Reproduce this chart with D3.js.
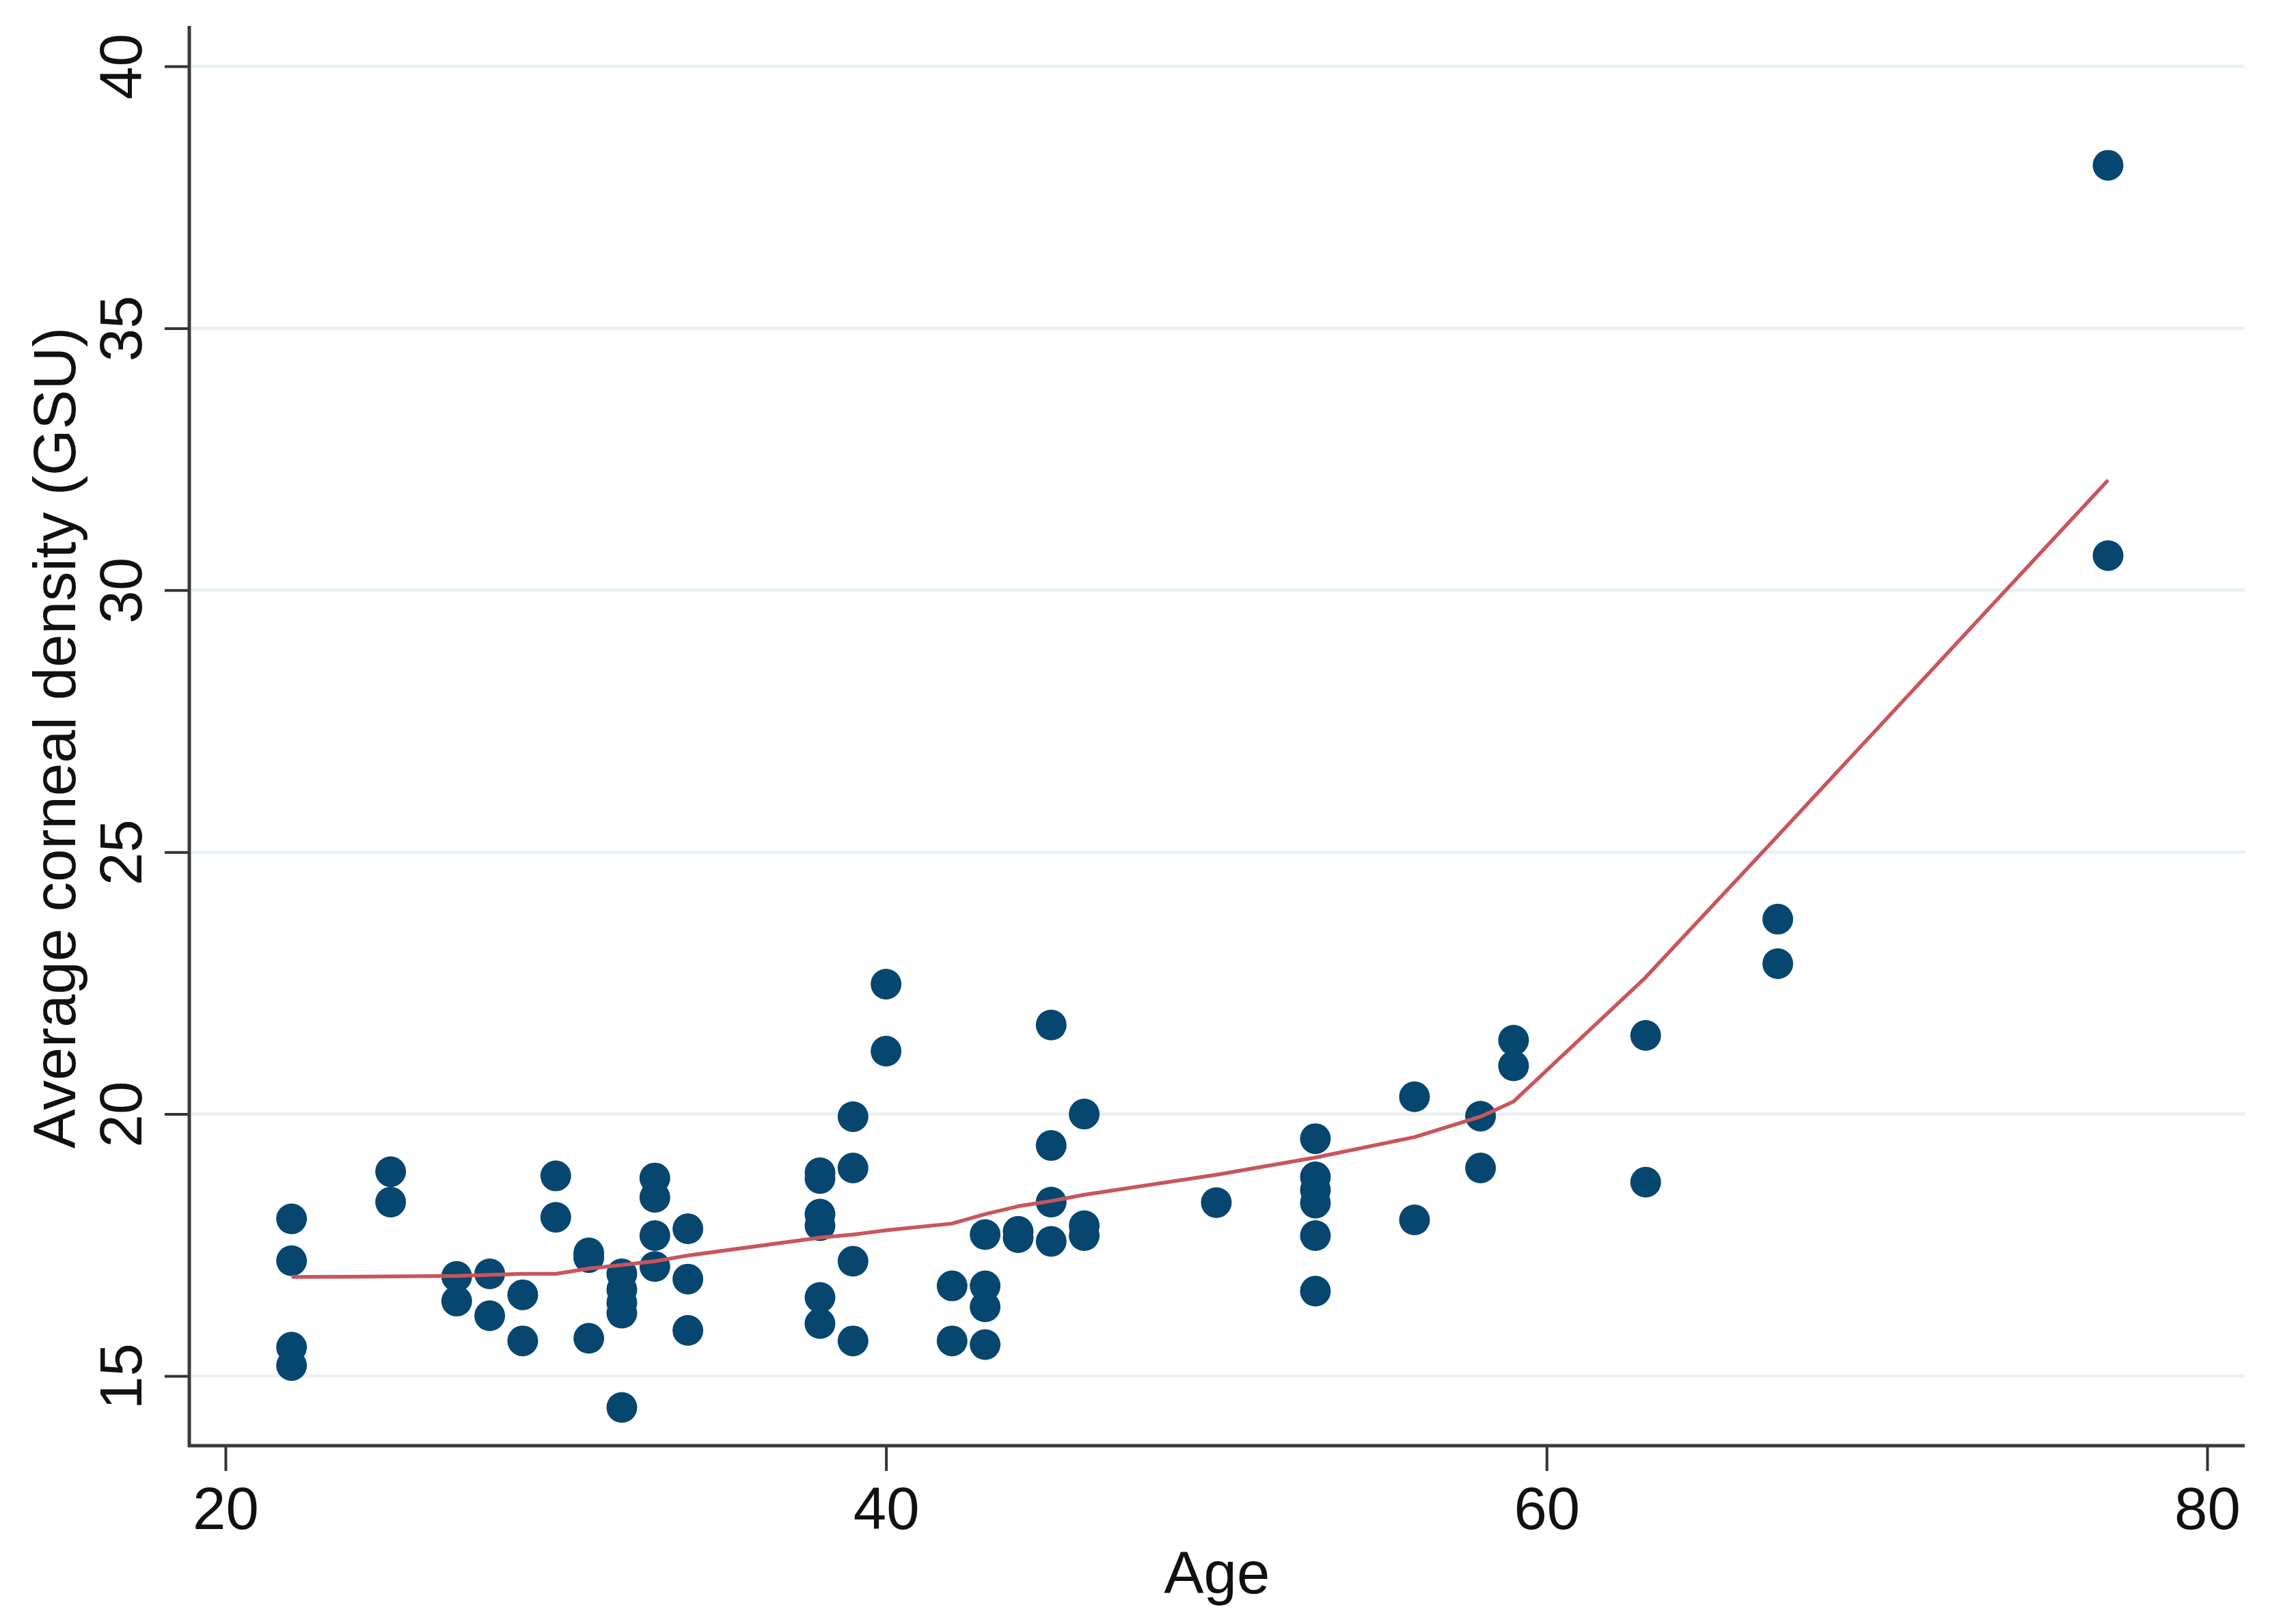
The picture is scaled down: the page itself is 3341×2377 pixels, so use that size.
<!DOCTYPE html>
<html>
<head>
<meta charset="utf-8">
<script src="https://cdn.jsdelivr.net/npm/d3@7"></script>
<style>
  html, body { margin: 0; padding: 0; background: #ffffff; }
  svg { display: block; }
  text { font-family: "Liberation Sans", Arial, Helvetica, sans-serif; fill: #111; }
</style>
</head>
<body>
<svg id="chart" width="3341" height="2377"></svg>
<script>
// ---- Data ----
const ages = [
  22, 22, 22, 22,
  25, 25,
  27, 27,
  28, 28,
  29, 29,
  30, 30,
  31, 31, 31,
  32, 32, 32, 32, 32,
  33, 33, 33, 33,
  34, 34, 34,
  38, 38, 38, 38, 38, 38,
  39, 39, 39, 39,
  40, 40,
  42, 42,
  43, 43, 43, 43,
  44, 44,
  45, 45, 45, 45,
  46, 46, 46,
  50,
  53, 53, 53, 53, 53, 53,
  56, 56,
  58, 58,
  59, 59,
  63, 63,
  67, 67,
  77, 77
];
const density = [
  18.0, 17.2, 15.55, 15.2,
  18.9, 18.32,
  16.9, 16.43,
  16.95, 16.15,
  16.55, 15.67,
  18.82, 18.03,
  17.35, 17.26, 15.72,
  16.95, 16.65, 16.4, 16.2, 14.4,
  18.78, 18.41, 17.68, 17.09,
  17.81, 16.85, 15.87,
  18.88, 18.77, 18.09, 17.87, 16.5, 16.0,
  19.95, 18.97, 17.19, 15.67,
  22.48, 21.2,
  16.72, 15.67,
  17.7, 16.72, 16.32, 15.6,
  17.76, 17.64,
  21.7, 19.4, 18.32, 17.57,
  20.0, 17.87, 17.68,
  18.31,
  19.53, 18.8, 18.55, 18.3, 17.68, 16.62,
  20.33, 17.98,
  19.96, 18.97,
  21.41, 20.92,
  21.5, 18.7,
  23.72, 22.87,
  38.11, 30.66
];
// lowess smoother values at each distinct age
const fitAges = [22, 25, 27, 28, 29, 30, 31, 32, 33, 34, 38, 39, 40, 42, 43, 44, 45, 46, 50, 53, 56, 58, 59, 63, 67, 77];
const fitValues = [16.89, 16.90, 16.91, 16.93, 16.95, 16.95, 17.05, 17.12, 17.19, 17.30, 17.64, 17.70, 17.78, 17.91, 18.09, 18.24, 18.34, 18.46, 18.84, 19.17, 19.56, 19.95, 20.24, 22.61, 25.31, 32.1];

const xTicks = [20, 40, 60, 80];
const yTicks = [15, 20, 25, 30, 35, 40];
const xTitle = "Age";
const yTitle = "Average corneal density (GSU)";

// ---- Layout ----
const plotLeft = 277, plotRight = 3285, plotTop = 38, plotBottom = 2116;
const x = d3.scaleLinear().domain([18.9035, 81.138]).range([plotLeft, plotRight]);
const y = d3.scaleLinear().domain([13.67, 40.769]).range([plotBottom, plotTop]);

const svg = d3.select("#chart");
svg.append("rect").attr("width", 3341).attr("height", 2377).attr("fill", "#ffffff");

const fontSize = 87;

// gridlines
svg.append("g").selectAll("line").data(yTicks).join("line")
  .attr("x1", plotLeft + 3).attr("x2", plotRight)
  .attr("y1", d => y(d)).attr("y2", d => y(d))
  .attr("stroke", "#e9f1f2").attr("stroke-width", 5);

// Y axis
const yAxis = d3.axisLeft(y).tickValues(yTicks).tickSize(36).tickPadding(0).tickFormat(d3.format("d"));
const gy = svg.append("g").attr("transform", `translate(${plotLeft},0)`).call(yAxis);
gy.select(".domain").remove();
gy.selectAll(".tick line").attr("stroke", "#333").attr("stroke-width", 4);
gy.selectAll(".tick text").remove();
gy.selectAll(".tick").append("text")
  .attr("transform", "translate(-70,0) rotate(-90)")
  .attr("text-anchor", "middle")
  .attr("font-size", fontSize)
  .attr("fill", "#111")
  .text(d => d);
svg.append("line")
  .attr("x1", plotLeft).attr("x2", plotLeft)
  .attr("y1", plotTop).attr("y2", plotBottom + 2)
  .attr("stroke", "#3a3a3a").attr("stroke-width", 5);

// X axis
const xAxis = d3.axisBottom(x).tickValues(xTicks).tickSize(37).tickPadding(0).tickFormat(d3.format("d"));
const gx = svg.append("g").attr("transform", `translate(0,${plotBottom})`).call(xAxis);
gx.select(".domain").remove();
gx.selectAll(".tick line").attr("stroke", "#333").attr("stroke-width", 4);
gx.selectAll(".tick text")
  .attr("y", 122).attr("dy", null)
  .attr("font-size", fontSize)
  .attr("fill", "#111")
  .style("font-family", "'Liberation Sans', Arial, sans-serif");
svg.append("line")
  .attr("x1", plotLeft - 2).attr("x2", plotRight)
  .attr("y1", plotBottom).attr("y2", plotBottom)
  .attr("stroke", "#3a3a3a").attr("stroke-width", 5);

// Axis titles
svg.append("text")
  .attr("x", (plotLeft + plotRight) / 2).attr("y", 2332)
  .attr("text-anchor", "middle").attr("font-size", fontSize)
  .text(xTitle);
svg.append("text")
  .attr("transform", `translate(110,${(plotTop + plotBottom) / 2 + 3}) rotate(-90)`)
  .attr("text-anchor", "middle").attr("font-size", fontSize)
  .text(yTitle);

// Scatter points
const pts = ages.map((a, i) => ({ a, v: density[i] }));
svg.append("g").selectAll("circle").data(pts).join("circle")
  .attr("cx", d => x(d.a)).attr("cy", d => y(d.v))
  .attr("r", 22.5)
  .attr("fill", "#07466f");

// Lowess line
const fit = fitAges.map((a, i) => ({ a, v: fitValues[i] }));
svg.append("path").datum(fit)
  .attr("d", d3.line().x(d => x(d.a)).y(d => y(d.v)))
  .attr("fill", "none")
  .attr("stroke", "#c8565c")
  .attr("stroke-width", 5.5)
  .attr("stroke-linejoin", "round");
</script>
</body>
</html>
